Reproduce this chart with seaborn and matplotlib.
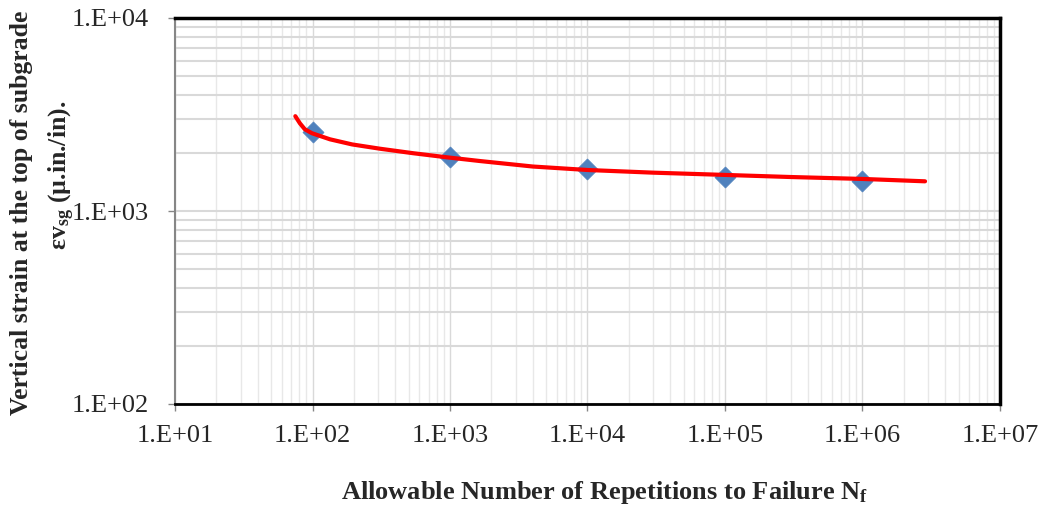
import numpy as np
import matplotlib
matplotlib.use("Agg")
import matplotlib.pyplot as plt
import seaborn as sns
from matplotlib.ticker import LogLocator, FuncFormatter, NullFormatter

# Data
repetitions = [1e2, 1e3, 1e4, 1e5, 1e6]
strain = [2560, 1900, 1650, 1505, 1425]

# Trend curve
curve_x = [75, 81, 88, 99, 134, 194, 310, 541, 946, 1652, 4000, 10000, 30000, 100000, 300000, 1000000, 2850000]
curve_y = [3100, 2846, 2650, 2530, 2352, 2213, 2102, 1992, 1898, 1815, 1700, 1631, 1580, 1538, 1500, 1466, 1425]

x_ticks = [1e1, 1e2, 1e3, 1e4, 1e5, 1e6, 1e7]
y_ticks = [1e2, 1e3, 1e4]

sns.set_theme(style="white")
plt.rcParams['font.family'] = ['Liberation Serif', 'DejaVu Serif']
plt.rcParams['mathtext.fontset'] = 'custom'
plt.rcParams['mathtext.rm'] = 'Liberation Serif'
plt.rcParams['mathtext.it'] = 'Liberation Serif:italic'
plt.rcParams['mathtext.bf'] = 'Liberation Serif:bold'

fig = plt.figure(figsize=(10.43, 5.12), dpi=100)
ax = fig.add_axes([175/1043, 1-404/512, 825/1043, 386/512])

ax.set_xscale("log")
ax.set_yscale("log")

sns.lineplot(x=curve_x, y=curve_y, ax=ax, color="#ff0000", linewidth=3, sort=False, zorder=4)
sns.scatterplot(x=repetitions, y=strain, ax=ax, marker="D", s=115, color="#4f81bd",
                edgecolor="#4f81bd", linewidth=0.5, zorder=3)

ax.set_xlim(1e1, 1e7)
ax.set_ylim(1e2, 1e4)
ax.set_xticks(x_ticks)
ax.set_yticks(y_ticks)
ax.xaxis.set_minor_locator(LogLocator(base=10, subs=np.arange(2, 10), numticks=100))
ax.yaxis.set_minor_locator(LogLocator(base=10, subs=np.arange(2, 10), numticks=100))
ax.xaxis.set_minor_formatter(NullFormatter())
ax.yaxis.set_minor_formatter(NullFormatter())
fmt = FuncFormatter(lambda v, p: "1.E+%02d" % int(round(np.log10(v))))
ax.xaxis.set_major_formatter(fmt)
ax.yaxis.set_major_formatter(fmt)

ax.grid(True, which="major", axis="y", color="#d9d9d9", linewidth=1.5)
ax.grid(True, which="minor", axis="y", color="#d9d9d9", linewidth=1.5)
ax.grid(True, which="major", axis="x", color="#d9d9d9", linewidth=1.0)
ax.grid(True, which="minor", axis="x", color="#e8e8e8", linewidth=1.0)
ax.set_axisbelow(True)

ax.tick_params(axis="both", which="major", direction="out", length=5, width=1,
               color="#868686", labelsize=19, bottom=True, left=True)
ax.tick_params(axis="x", which="major", pad=10)
ax.tick_params(axis="y", which="major", pad=14)
ax.tick_params(axis="both", which="minor", length=0)

for s in ["top", "right"]:
    ax.spines[s].set_color("black")
    ax.spines[s].set_linewidth(2.5)
ax.spines["bottom"].set_color("black")
ax.spines["bottom"].set_linewidth(2)
ax.spines["left"].set_color("#868686")
ax.spines["left"].set_linewidth(1.5)

ax.set_xlabel("")
ax.set_ylabel("")

fig.text(22/1043, 1-213/512, "Vertical strain at the top of subgrade", rotation=90,
         ha="center", va="center", fontsize=18.5, fontweight="bold")
fig.text(62/1043, 1-175/512, r"εv$_\mathbf{sg}$ (µ.in./in).", rotation=90,
         ha="center", va="center", fontsize=18.5, fontweight="bold")
fig.text(605/1043, 1-493/512, r"Allowable Number of Repetitions to Failure N$_\mathbf{f}$",
         ha="center", va="center", fontsize=19, fontweight="bold")

fig.savefig("out.png", dpi=100)
